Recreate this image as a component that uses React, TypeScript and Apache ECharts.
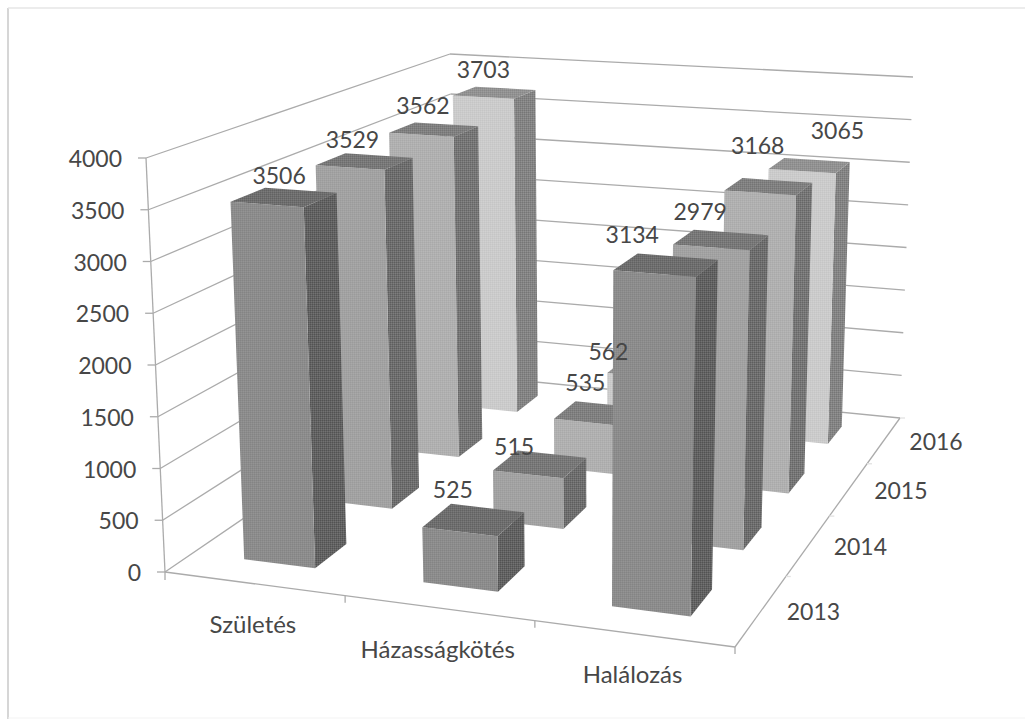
import React, { useEffect, useRef } from "react";
import * as echarts from "echarts";

const categories = ["Születés", "Házasságkötés", "Halálozás"];
const years = ["2013", "2014", "2015", "2016"];
const births = [3506, 3529, 3562, 3703];
const marriages = [525, 515, 535, 562];
const deaths = [3134, 2979, 3168, 3065];
const valueTicks = [0, 500, 1000, 1500, 2000, 2500, 3000, 3500, 4000];
const seriesByCategory = [births, marriages, deaths];

type P = [number, number];
// Pixel corners of the 3D box (A front-left, B front-right, C back-right, D back-left)
const FLOOR: P[] = [[165, 572], [735, 647], [900, 418], [455, 374]];
const CEIL: P[] = [[146, 158], [745, 200], [913, 77], [450, 54]];
const BAR_W = 0.134;
const BAR_D = 0.097;
const U_SHIFT = -0.002;

const FRONT = [[140, 8], [162, 7], [176, 7], [203, 6]];
const SIDE = [[98, 16], [110, 16], [118, 16], [132, 14]];
const TOP = [[110, 12], [120, 12], [128, 12], [146, 10]];
const LINE = "#ababab";
const TEXT = "#474747";
const FONT = "Lato";
const FS = 23;

// label nudges relative to the top-centre of each bar: [cat][year]
const NUDGE: P[][] = [
  [[-6, -22], [-13, -22], [-12, -25], [-12, -24]],
  [[-22, -31], [-27, -18], [-13, -31], [-40, -17]],
  [[-35, -31], [-22, -29], [-12, -42], [27, -36]],
];

function texture(spec: number[]) {
  const [base, amp] = spec;
  const cv = document.createElement("canvas");
  cv.width = 4;
  cv.height = 4;
  const ctx = cv.getContext("2d")!;
  for (let x = 0; x < 4; x++) {
    for (let y = 0; y < 4; y++) {
      const dark = y % 2 === 0 && x % 2 === 0;
      const mid = y % 2 === 0 || x % 2 === 0;
      const g = Math.round(dark ? base - amp : mid ? base : base + amp);
      ctx.fillStyle = `rgb(${g},${g},${g})`;
      ctx.fillRect(x, y, 1, 1);
    }
  }
  return { image: cv, repeat: "repeat" };
}

function homography(q: P[]) {
  const [[x0, y0], [x1, y1], [x2, y2], [x3, y3]] = q;
  const dx1 = x1 - x2, dx2 = x3 - x2, dy1 = y1 - y2, dy2 = y3 - y2;
  const sx = x0 - x1 + x2 - x3, sy = y0 - y1 + y2 - y3;
  const det = dx1 * dy2 - dx2 * dy1;
  const g = (sx * dy2 - dx2 * sy) / det;
  const h = (dx1 * sy - sx * dy1) / det;
  const a = x1 - x0 + g * x1, b = x3 - x0 + h * x3, c = x0;
  const d = y1 - y0 + g * y1, e = y3 - y0 + h * y3, f = y0;
  return (u: number, v: number): P => {
    const w = g * u + h * v + 1;
    return [(a * u + b * v + c) / w, (d * u + e * v + f) / w];
  };
}
const floorH = homography(FLOOR);
const ceilH = homography(CEIL);
function project(u: number, v: number, t: number): P {
  const a = floorH(u, v), b = ceilH(u, v);
  return [a[0] + (b[0] - a[0]) * t, a[1] + (b[1] - a[1]) * t];
}

function fractions(api: any, params: any, cat: number, value: number) {
  const c = api.coord([cat, value]);
  const r = params.coordSys;
  return [(c[0] - r.x) / r.width, 1 - (c[1] - r.y) / r.height];
}

const poly = (points: P[], fill: any) => ({
  type: "polygon",
  shape: { points },
  style: { fill },
});
const seg = (a: P, b: P, stroke = LINE) => ({
  type: "line",
  shape: { x1: a[0], y1: a[1], x2: b[0], y2: b[1] },
  style: { stroke, lineWidth: 1.3 },
});
const txt = (text: string, x: number, y: number, align: string, size = FS) => ({
  type: "text",
  style: { text, x, y, align, verticalAlign: "middle", fill: TEXT, font: `${size}px ${FONT}` },
});

const barData: number[][] = [];
for (let y = years.length - 1; y >= 0; y--) {
  categories.forEach((_, c) => barData.push([c + 0.5, seriesByCategory[c][y], y, c]));
}

export default function App() {
  const ref = useRef<HTMLDivElement>(null);
  useEffect(() => {
    const chart = echarts.init(ref.current!, null, { renderer: "svg" });
    const frontFill = FRONT.map(texture);
    const sideFill = SIDE.map(texture);
    const topFill = TOP.map(texture);
    const edge = (x1: number, y1: number, x2: number, y2: number, stroke: string, lineWidth: number) => ({
      type: "line",
      silent: true,
      shape: { x1, y1, x2, y2 },
      style: { stroke, lineWidth },
    });
    chart.setOption({
      animation: false,
      backgroundColor: "#ffffff",
      grid: { left: 0, right: 0, top: 0, bottom: 0 },
      xAxis: { type: "value", min: 0, max: categories.length, show: false },
      yAxis: { type: "value", min: 0, max: 4000, show: false },
      graphic: [
        edge(8, 8, 8, 719, "#d6d6d6", 2),
        edge(8, 8, 1025, 8, "#e6e6e6", 1.5),
        edge(8, 718, 1025, 718, "#f3f3f3", 1),
      ],
      series: [
        {
          type: "custom",
          z: 1,
          silent: true,
          encode: { x: 0, y: 1 },
          data: valueTicks.map((v) => [0, v]),
          renderItem: (params: any, api: any) => {
            const v = api.value(1);
            const [, t] = fractions(api, params, 0, v);
            const a = project(0, 0, t), d = project(0, 1, t), c = project(1, 1, t);
            const children: any[] = [seg(a, d), seg(d, c), seg([a[0] - 8, a[1]], a)];
            children.push(txt(String(v), a[0] - 24, a[1], "right"));
            if (params.dataIndex === 0) {
              children.push(seg(project(0, 0, 0), project(0, 0, 1)));
              children.push(seg(project(0, 0, 0), project(1, 0, 0)));
              children.push(seg(project(1, 0, 0), project(1, 1, 0)));
              categories.forEach((name, i) => {
                const tick = floorH((i + 1) / categories.length, 0);
                children.push(seg(tick, [tick[0], tick[1] + 7]));
                const mid = floorH((i + 0.5) / categories.length, 0);
                children.push(txt(name, mid[0] - 1, mid[1] + 40, "center", FS + 1));
              });
              children.push(seg(project(0, 0, 0), [165, 580]));
              years.forEach((name, j) => {
                const tick = floorH(1, (j + 1) / years.length);
                children.push(seg(tick, [tick[0] + 5, tick[1]], "#e2e2e2"));
                const mid = floorH(1, (j + 0.5) / years.length);
                children.push(txt(name, mid[0] + 52, mid[1] + 1, "center"));
              });
            }
            return { type: "group", children };
          },
        },
        {
          type: "custom",
          z: 2,
          silent: true,
          encode: { x: 0, y: 1 },
          data: barData,
          renderItem: (params: any, api: any) => {
            const value = api.value(1), y = api.value(2), c = api.value(3);
            const [uc, t] = fractions(api, params, c + 0.5, value);
            const u = uc + U_SHIFT;
            const v = (y + 0.5) / years.length;
            const u0 = u - BAR_W / 2, u1 = u + BAR_W / 2, v0 = v - BAR_D / 2, v1 = v + BAR_D / 2;
            const fb = project(u0, v0, 0), fc = project(u1, v0, 0), bc = project(u1, v1, 0);
            const ft = project(u0, v0, t), gt = project(u1, v0, t), ht = project(u1, v1, t), it = project(u0, v1, t);
            return {
              type: "group",
              children: [
                poly([fc, bc, ht, gt], sideFill[y]),
                poly([fb, fc, gt, ft], frontFill[y]),
                poly([ft, gt, ht, it], topFill[y]),
              ],
            };
          },
        },
        {
          type: "custom",
          z: 3,
          silent: true,
          encode: { x: 0, y: 1 },
          data: barData,
          renderItem: (params: any, api: any) => {
            const value = api.value(1), y = api.value(2), c = api.value(3);
            const [uc, t] = fractions(api, params, c + 0.5, value);
            const v = (y + 0.5) / years.length;
            const p = project(uc, v, t);
            const n = NUDGE[c][y];
            return txt(String(value), p[0] + n[0], p[1] + n[1], "center");
          },
        },
      ],
    });
    return () => chart.dispose();
  }, []);
  return <div ref={ref} style={{ position: "absolute", left: 0, top: 0, width: 1025, height: 720 }} />;
}
